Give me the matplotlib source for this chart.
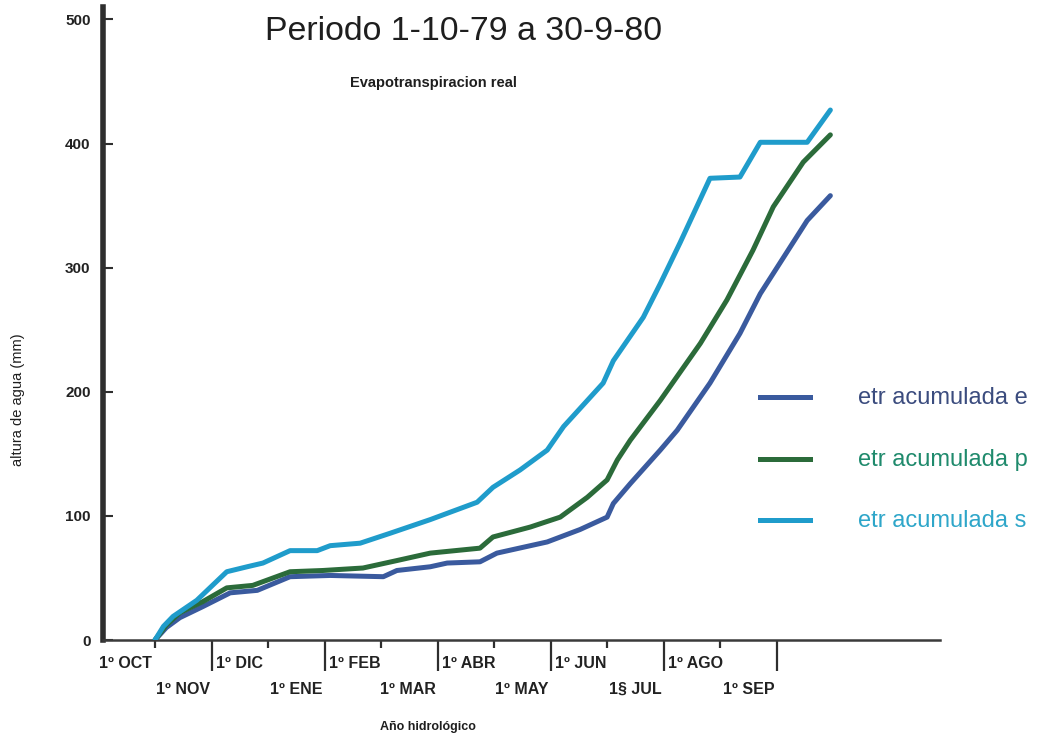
import matplotlib
matplotlib.use("Agg")
import matplotlib.pyplot as plt
from matplotlib.lines import Line2D

plt.rcParams["font.family"] = ["Liberation Sans", "DejaVu Sans"]

# Month index (0 = 1 Oct, 12 = 30 Sep) and accumulated ETR in mm
mes_e = [0, 0.20, 0.44, 0.85, 1.33, 1.81, 2.39, 3.10, 4.04, 4.28, 4.87, 5.17,
         5.75, 6.05, 6.94, 7.52, 8.00, 8.11, 8.41, 8.94, 9.24, 9.82, 10.35,
         10.71, 11.54, 11.95]
etr_e = [0, 10, 18, 27, 38, 40, 51, 52, 51, 56, 59, 62,
         63, 70, 79, 89, 99, 110, 126, 153, 169, 207, 247,
         279, 338, 358]

mes_p = [0, 0.20, 0.44, 0.85, 1.27, 1.73, 2.39, 2.97, 3.68, 4.28, 4.87, 5.75,
         5.98, 6.64, 7.17, 7.65, 8.00, 8.18, 8.41, 8.94, 9.65, 10.12, 10.58,
         10.94, 11.47, 11.95]
etr_p = [0, 12, 22, 31, 42, 44, 55, 56, 58, 64, 70, 74,
         83, 91, 99, 115, 129, 145, 161, 193, 239, 274, 314,
         349, 385, 407]

mes_s = [0, 0.15, 0.32, 0.74, 1.27, 1.63, 1.91, 2.39, 2.87, 3.10, 3.63, 4.16,
         4.87, 5.70, 5.98, 6.46, 6.94, 7.23, 7.93, 8.11, 8.64, 8.94, 9.29,
         9.82, 10.35, 10.71, 11.54, 11.95]
etr_s = [0, 11, 19, 32, 55, 59, 62, 72, 72, 76, 78, 86,
         97, 111, 123, 137, 153, 172, 207, 225, 260, 287, 320,
         372, 373, 401, 401, 427]

etiquetas_arriba = ["1º DIC", "1º FEB", "1º ABR", "1º JUN", "1º AGO"]
etiquetas_abajo = ["1º NOV", "1º ENE", "1º MAR", "1º MAY", "1§ JUL", "1º SEP"]
ticks_largos = [1, 3, 5, 7, 9, 11]
ticks_cortos = [0, 2, 4, 6, 8, 10]
yticks = [0, 100, 200, 300, 400, 500]

series = [
    ("etr acumulada e", mes_e, etr_e, "#3a5a9e", "#3b4c7e"),
    ("etr acumulada p", mes_p, etr_p, "#2b6b3a", "#1f8a6c"),
    ("etr acumulada s", mes_s, etr_s, "#1f9ccb", "#2ea6c9"),
]

W, H = 1037, 735
fig = plt.figure(figsize=(W / 100, H / 100), dpi=100)
fig.patch.set_facecolor("white")
ax = fig.add_axes([103 / W, 1 - 640 / H, (940 - 103) / W, (640 - 7) / H])
ax.set_xlim(-0.92, 13.89)
ax.set_ylim(0, 510)

for nombre, x, y, col, _ in series:
    ax.plot(x, y, color=col, lw=3.6, solid_joinstyle="round",
            solid_capstyle="round", zorder=3)

for s in ("top", "right"):
    ax.spines[s].set_visible(False)
ax.spines["left"].set_linewidth(4.0)
ax.spines["left"].set_color("#2e2e2e")
ax.spines["left"].set_bounds(0, 510)
ax.spines["bottom"].set_linewidth(1.8)
ax.spines["bottom"].set_color("#3a3a3a")

ax.set_yticks(yticks)
ax.set_yticklabels([str(v) for v in yticks], fontsize=11, fontweight="bold",
                   color="#222222")
ax.tick_params(axis="y", direction="in", length=7, width=1.5,
               color="#2e2e2e", pad=9)

ax.set_xticks(ticks_largos)
ax.set_xticks(ticks_cortos, minor=True)
ax.tick_params(axis="x", which="major", direction="out", length=22, width=1.6,
               color="#2e2e2e", labelbottom=False)
ax.tick_params(axis="x", which="minor", direction="out", length=6, width=1.6,
               color="#2e2e2e", labelbottom=False)

tr = ax.get_xaxis_transform()
y_arriba = (640 - 664) / 633
y_abajo = (640 - 689) / 633
lab_kw = dict(fontsize=11.5, fontweight="bold", color="#222222",
              va="center", transform=tr, clip_on=False)
ax.text(-0.05, y_arriba, "1º OCT", ha="right", **lab_kw)
for t, lab in zip(ticks_largos, etiquetas_arriba):
    ax.text(t + 0.08, y_arriba, lab, ha="left", **lab_kw)
for t, lab in zip(ticks_largos, etiquetas_abajo):
    ax.text(t - 0.03, y_abajo, lab, ha="right", **lab_kw)

fig.text(464 / W, 1 - 31 / H, "Periodo 1-10-79 a 30-9-80", fontsize=24.4,
         color="#1e1e1e", ha="center", va="center")
fig.text(433 / W, 1 - 83 / H, "Evapotranspiracion real", fontsize=10.5,
         fontweight="bold", color="#1e1e1e", ha="center", va="center")
fig.text(18 / W, 1 - 400 / H, "altura de agua (mm)", fontsize=10.5,
         fontweight="medium", color="#1e1e1e", rotation=90, ha="center",
         va="center")
fig.text(428 / W, 1 - 727 / H, "Año hidrológico", fontsize=9,
         fontweight="bold", color="#1e1e1e", ha="center", va="center")

# Legend drawn by hand to the right of the curves
for (nombre, _, _, col, tcol), yp in zip(series, [397, 459, 520]):
    fig.add_artist(Line2D([760 / W, 810 / W], [1 - yp / H] * 2, color=col,
                          lw=3.6, transform=fig.transFigure))
    fig.text(858 / W, 1 - (yp + 1) / H, nombre, fontsize=17, color=tcol,
             ha="left", va="center")

fig.savefig("out.png", dpi=100, facecolor="white")
